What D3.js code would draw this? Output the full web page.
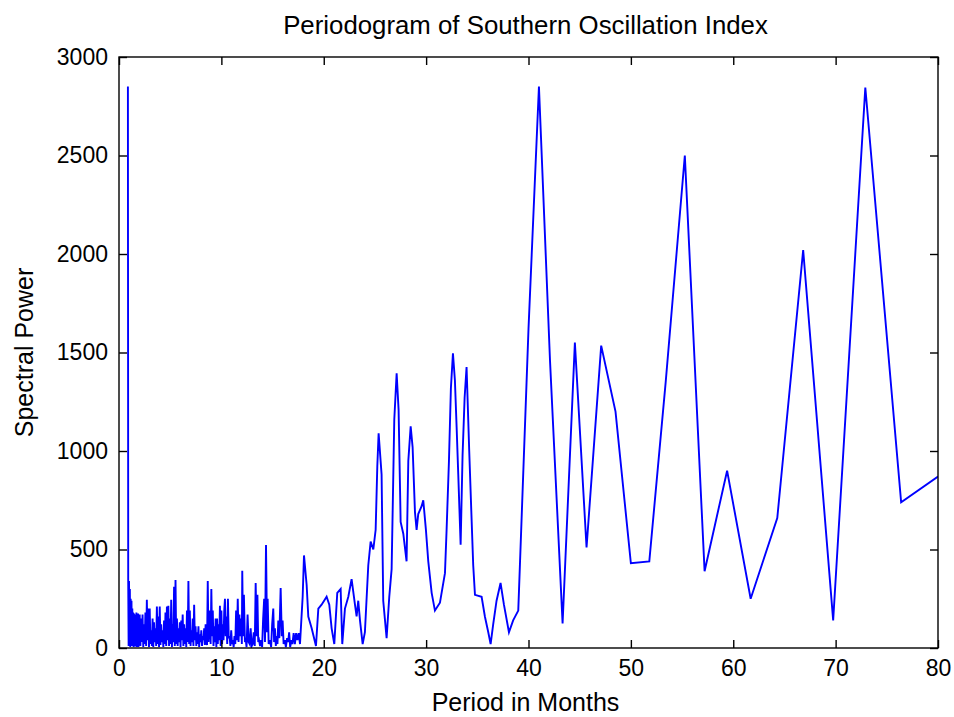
<!DOCTYPE html>
<html>
<head>
<meta charset="utf-8">
<script src="https://cdn.jsdelivr.net/npm/d3@7"></script>
<style>
  html, body { margin: 0; padding: 0; background: #fff; }
  svg { display: block; }
  text { font-family: "Liberation Sans", Arial, sans-serif; fill: #000; }
</style>
</head>
<body>
<svg id="chart" width="954" height="717"></svg>
<script>
// ---- data ----
const titleText = "Periodogram of Southern Oscillation Index";
const xLabelText = "Period in Months";
const yLabelText = "Spectral Power";
const xTicks = [0, 10, 20, 30, 40, 50, 60, 70, 80];
const yTicks = [0, 500, 1000, 1500, 2000, 2500, 3000];

// shortest periods (dense part)
const periodA = [0.87,0.9,0.94,0.98,1.02,1.06,1.1,1.14,1.18,1.22,1.26,1.3,1.34,1.38,1.42,1.46,1.5,1.54,1.58,1.62,1.66,1.7,1.74,1.78,1.82,1.86,1.9,1.94,1.98];
const powerA  = [2850,345,10,340,20,300,5,250,30,240,10,200,15,180,5,175,20,170,8,165,25,180,5,160,15,175,5,170,20];

const periodB = [2.02,2.09,2.16,2.23,2.30,2.37,2.44,2.51,2.58,2.65,2.72,2.79,2.86,2.93,3.00,3.07,3.14,3.21,3.28,3.35,3.42,3.49,3.56,3.63,3.70,3.77,3.84,3.91,3.98,4.05,4.12,4.19,4.26,4.33,4.40,4.47,4.54,4.61,4.68,4.75,4.82,4.89,4.96,5.03,5.10,5.17,5.24,5.31,5.38,5.45,5.52,5.59,5.66,5.73,5.80,5.87,5.94,6.01,6.08,6.15,6.22,6.29,6.36,6.43,6.50,6.57,6.64,6.71,6.78,6.85,6.92,6.99,7.06,7.13,7.20,7.27,7.34,7.41,7.48,7.55,7.62,7.69,7.76,7.83,7.90,7.97,8.04,8.11,8.18,8.25,8.32,8.39,8.46,8.53,8.60,8.67,8.74,8.81,8.88,8.95,9.02,9.09,9.16,9.23,9.30,9.37,9.44,9.51,9.58,9.65,9.72,9.79,9.86,9.93,10.00];
const powerB  = [170,10,150,30,170,5,120,20,180,10,
                 245,40,200,5,200,20,90,10,150,5,
                 130,30,100,10,210,20,160,5,210,15,
                 120,30,90,5,140,20,180,10,210,40,
                 215,10,150,20,245,5,120,30,311,10,
                 345,20,150,10,100,30,130,5,140,40,
                 170,10,120,20,100,5,190,30,340,20,
                 190,10,90,30,150,10,220,40,110,10,
                 80,20,110,5,70,30,90,10,60,40,
                 100,15,120,30,15,340,30,130,190,20,
                 300,60,190,10,110,30,150,5,150,20,
                 120,40,215,10,190];

const periodC = [10.07,10.14,10.21,10.28,10.35,10.42,10.5,10.57,10.64,10.72,
                 10.8,10.88,10.96,11.04,11.12,11.2,11.28,11.36,11.44,11.52,
                 11.6,11.68,11.76,11.84,11.92,12.0,12.04,12.12,12.2,12.3,
                 12.38,12.46,12.56,12.66,12.76,12.86,12.96,13.06,13.16,13.26,
                 13.35,13.45,13.52,13.6,13.68,13.78,13.88,13.98,14.08,14.18,
                 14.26,14.36,14.46,14.52,14.62,14.75,14.86,14.96,15.07,15.15,
                 15.23,15.32,15.4,15.48,15.56,15.66,15.79,15.9,15.98,16.08,
                 16.2,16.3,16.42,16.52,16.62,16.72,16.84,16.94,17.06,17.18,
                 17.3,17.42,17.55];
const powerC  = [20,120,40,190,250,60,160,20,250,50,
                 60,10,90,20,40,5,60,20,190,40,
                 250,30,170,60,150,20,392,60,270,30,
                 40,5,170,30,20,100,10,20,80,10,
                 330,60,270,30,40,10,40,5,150,250,
                 30,523,80,250,20,40,5,120,200,30,
                 100,10,60,20,140,50,305,60,140,20,
                 40,5,50,30,80,5,40,20,75,20,
                 75,40,75];

const periodD = [17.68,17.94,18.07,18.33,18.49,18.82,19.24,19.47,19.79,20.28,
                 20.54,20.77,21.03,21.32,21.65,21.81,22.07,22.4,22.72,23.05,
                 23.21,23.37,23.54,23.8,24.02,24.35,24.58,24.84,25.07,25.23,
                 25.36,25.65,25.81,26.14,26.4,26.63,26.89,27.12,27.31,27.51,
                 27.77,28.09,28.26,28.49,28.68,28.91,29.07,29.23,29.56,29.72,
                 29.98,30.21,30.54,30.86,31.35,31.84,32.0,32.23,32.42,32.62,
                 32.81,32.98,33.14,33.37,33.56,33.76,33.95,34.21,34.41,34.6,
                 34.77,35.42,35.74,36.07,36.3,36.55,36.88,37.27,37.6,38.09,
                 38.5];
const powerD  = [20,260,470,320,160,100,10,200,220,260,
                 220,100,20,280,300,20,200,260,350,220,
                 160,240,140,20,80,420,540,500,600,920,
                 1090,880,240,50,260,400,1160,1395,1210,640,
                 580,440,950,1125,1020,690,600,680,720,750,
                 600,440,280,190,230,380,600,950,1320,1496,
                 1360,1120,880,524,980,1270,1426,1000,700,420,
                 270,260,160,80,20,120,240,330,220,80,
                 140];

// longest periods (sparse part)
const periodE = [39.0,40.0,41.02,42.1,43.33,44.53,45.67,47.1,48.5,50.0,51.8,53.4,55.27,57.2,59.4,61.7,64.3,66.83,69.76,72.9,76.4,80.0];
const powerE  = [190,1620,2850,1460,125,1550,510,1535,1200,430,440,1350,2500,390,900,250,660,2020,140,2845,740,870];

// ---- build ----
const periods = [].concat(periodA, periodB, periodC, periodD, periodE);
const powers  = [].concat(powerA, powerB, powerC, powerD, powerE);
const series = periods.map((p, i) => ({ p, v: powers[i] }));

const svg = d3.select("#chart");
const L = 119, R = 938, T = 57, B = 648;

const x = d3.scaleLinear().domain([0, 80]).range([L, R]);
const y = d3.scaleLinear().domain([0, 3000]).range([B, T]);

svg.append("rect").attr("x", 0).attr("y", 0).attr("width", 954).attr("height", 717).attr("fill", "#fff");

svg.append("defs").append("clipPath").attr("id", "plotclip")
  .append("rect").attr("x", L).attr("y", T).attr("width", R - L).attr("height", B - T);

// data line
svg.append("path")
  .datum(series)
  .attr("clip-path", "url(#plotclip)")
  .attr("fill", "none")
  .attr("stroke", "#0000ff")
  .attr("stroke-width", 1.9)
  .attr("stroke-linejoin", "miter")
  .attr("d", d3.line().x(d => x(d.p)).y(d => y(d.v)));

const tickLen = 8;
const fontTick = 23;

function styleAxis(g) {
  g.select(".domain").remove();
  g.selectAll(".tick line").attr("stroke", "#000").attr("stroke-width", 1.4);
  g.selectAll(".tick text").attr("font-family", "Liberation Sans, Arial, sans-serif").attr("font-size", fontTick).attr("fill", "#000");
}

// bottom
svg.append("g").attr("transform", `translate(0,${B})`)
  .call(d3.axisBottom(x).tickValues(xTicks).tickFormat(d3.format("d")).tickSizeInner(-tickLen).tickSizeOuter(0).tickPadding(12))
  .call(styleAxis);
// top
svg.append("g").attr("transform", `translate(0,${T})`)
  .call(d3.axisTop(x).tickValues(xTicks).tickFormat("").tickSizeInner(-tickLen).tickSizeOuter(0))
  .call(styleAxis);
// left
svg.append("g").attr("transform", `translate(${L},0)`)
  .call(d3.axisLeft(y).tickValues(yTicks).tickFormat(d3.format("d")).tickSizeInner(-tickLen).tickSizeOuter(0).tickPadding(11))
  .call(styleAxis);
// right
svg.append("g").attr("transform", `translate(${R},0)`)
  .call(d3.axisRight(y).tickValues(yTicks).tickFormat("").tickSizeInner(-tickLen).tickSizeOuter(0))
  .call(styleAxis);

// box
svg.append("rect").attr("x", L).attr("y", T).attr("width", R - L).attr("height", B - T)
  .attr("fill", "none").attr("stroke", "#000").attr("stroke-width", 1.4);

// title and labels
svg.append("text").attr("x", (L + R) / 2 - 3).attr("y", 34)
  .attr("text-anchor", "middle").attr("font-size", 25.8).text(titleText);
svg.append("text").attr("x", (L + R) / 2 - 3).attr("y", 711)
  .attr("text-anchor", "middle").attr("font-size", 25).text(xLabelText);
svg.append("text").attr("transform", `translate(33,${(T + B) / 2}) rotate(-90)`)
  .attr("text-anchor", "middle").attr("font-size", 25).text(yLabelText);
</script>
</body>
</html>
